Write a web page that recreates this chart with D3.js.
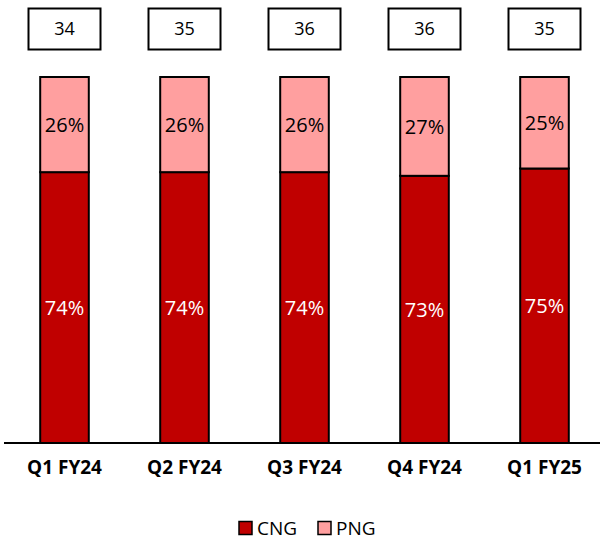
<!DOCTYPE html>
<html>
<head>
<meta charset="utf-8">
<script src="https://cdn.jsdelivr.net/npm/d3@7"></script>
<style>
  body { margin: 0; background: #fff; }
  text { font-family: "Open Sans", "Liberation Sans", sans-serif; }
</style>
</head>
<body>
<svg id="chart" width="600" height="540"></svg>
<script>
const categories = ["Q1 FY24", "Q2 FY24", "Q3 FY24", "Q4 FY24", "Q1 FY25"];
const cngShare = [74, 74, 74, 73, 75];
const pngShare = [26, 26, 26, 27, 25];
const totals = [34, 35, 36, 36, 35];
const seriesNames = ["CNG", "PNG"];
const colors = { CNG: "#C00000", PNG: "#FF9F9F" };

const svg = d3.select("#chart");
const MARGIN = { left: 4.5, right: 0, top: 77, bottom: 97 };
const W = 600, H = 540;
const baseY = H - MARGIN.bottom;

const x = d3.scaleBand()
  .domain(categories)
  .range([MARGIN.left, 604.5])
  .paddingInner(0.595)
  .paddingOuter(0.2975);

const y = d3.scaleLinear()
  .domain([0, 100])
  .range([baseY, MARGIN.top]);

const rows = categories.map((c, i) => ({ cat: c, CNG: cngShare[i], PNG: pngShare[i], total: totals[i] }));
const stacked = d3.stack().keys(seriesNames)(rows);

// bars
const layers = svg.selectAll("g.layer")
  .data(stacked)
  .enter()
  .append("g")
  .attr("class", "layer")
  .attr("fill", d => colors[d.key]);

layers.selectAll("rect")
  .data(d => d)
  .enter()
  .append("rect")
  .attr("x", d => x(d.data.cat))
  .attr("y", d => y(d[1]))
  .attr("width", x.bandwidth())
  .attr("height", d => y(d[0]) - y(d[1]))
  .attr("stroke", "#000")
  .attr("stroke-width", 2);

// percentage labels
stacked.forEach(layer => {
  svg.append("g").selectAll("text")
    .data(layer)
    .enter()
    .append("text")
    .attr("x", d => x(d.data.cat) + x.bandwidth() / 2)
    .attr("y", d => (y(d[0]) + y(d[1])) / 2)
    .attr("dy", "0.36em")
    .attr("text-anchor", "middle")
    .attr("font-size", 20)
    .attr("fill", layer.key === "CNG" ? "#fff" : "#000")
    .text(d => d.data[layer.key] + "%");
});

// axis line
svg.append("line")
  .attr("x1", 4).attr("x2", 600)
  .attr("y1", baseY).attr("y2", baseY)
  .attr("stroke", "#000")
  .attr("stroke-width", 2);

// category labels
const xAxis = svg.append("g")
  .attr("transform", `translate(0,${baseY})`)
  .call(d3.axisBottom(x).tickSize(0).tickPadding(18));
xAxis.select(".domain").remove();
xAxis.selectAll("text")
  .attr("font-size", 19)
  .attr("font-weight", "bold")
  .attr("fill", "#000")
  .style("font-family", '"Open Sans", "Liberation Sans", sans-serif');

// total boxes
const boxes = svg.append("g").selectAll("g")
  .data(rows)
  .enter()
  .append("g")
  .attr("transform", d => `translate(${x(d.cat) + x.bandwidth() / 2},29)`);
boxes.append("rect")
  .attr("x", -36).attr("y", -20.5)
  .attr("width", 72).attr("height", 41)
  .attr("fill", "#fff")
  .attr("stroke", "#000")
  .attr("stroke-width", 2);
boxes.append("text")
  .attr("text-anchor", "middle")
  .attr("dy", "0.36em")
  .attr("font-size", 18)
  .text(d => d.total);

// legend
const legendX = [239, 318];
const legend = svg.append("g").selectAll("g")
  .data(seriesNames)
  .enter()
  .append("g")
  .attr("transform", (d, i) => `translate(${legendX[i]},528)`);
legend.append("rect")
  .attr("x", 0).attr("y", -6.5)
  .attr("width", 13).attr("height", 13)
  .attr("fill", d => colors[d])
  .attr("stroke", "#000")
  .attr("stroke-width", 1.5);
legend.append("text")
  .attr("x", 18)
  .attr("dy", "0.36em")
  .attr("font-size", 19)
  .text(d => d);
</script>
</body>
</html>
